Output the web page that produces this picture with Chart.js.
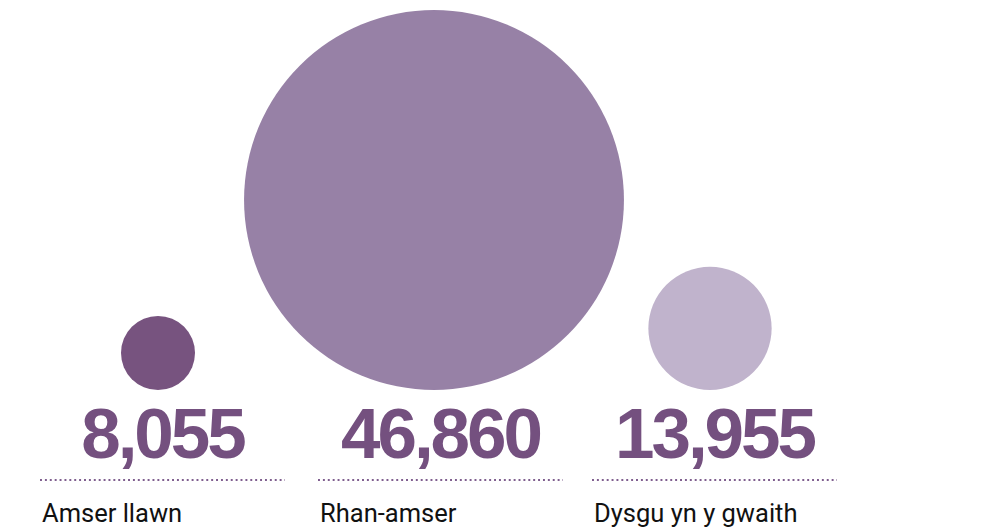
<!DOCTYPE html>
<html>
<head>
<meta charset="utf-8">
<script src="https://cdn.jsdelivr.net/npm/chart.js@4/dist/chart.umd.min.js"></script>
<style>
    html, body { margin: 0; padding: 0; background: #fff; }
    body { width: 990px; height: 528px; position: relative; overflow: hidden; font-family: Roboto, 'Noto Sans', sans-serif; }
    #wrap { position: absolute; left: 20px; top: 0; width: 828px; height: 392px; }
    .col { position: absolute; top: 398px; width: 245px; }
    .num {
        color: #74507f;
        font-family: 'Liberation Sans', Arial, sans-serif;
        font-size: 71px;
        font-weight: bold;
        letter-spacing: -3px;
        text-align: center;
        line-height: 72px;
        height: 72px;
    }
    .rule {
        margin-top: 9px;
        height: 2px;
        background: linear-gradient(to right, #7f5e8e 2px, transparent 2px) 0 0 / 4.9px 2px repeat-x;
    }
    .lbl {
        margin-top: 17px;
        padding-left: 2px;
        font-size: 25.5px;
        color: #111;
        line-height: 30px;
    }
</style>
</head>
<body>
<div id="wrap"><canvas id="bubbles"></canvas></div>
<div id="cols"></div>
<script>
const categories = ['Amser llawn', 'Rhan-amser', 'Dysgu yn y gwaith'];
const learners = [8055, 46860, 13955];
const bubbleColors = ['#77537f', '#9781a6', '#c0b3cc'];

const fmt = (n) => n.toLocaleString('en-GB');

// radius grows with the value (scale)
const radiusOf = (v) => 37 * Math.pow(v / learners[0], 0.929);

const colLefts = [40, 318, 592];

function buildColumns() {
    const cols = document.getElementById('cols');
    categories.forEach((c, i) => {
        const d = document.createElement('div');
        d.className = 'col';
        d.style.left = colLefts[i] + 'px';
        d.innerHTML = '<div class="num">' + fmt(learners[i]) + '</div><div class="rule"></div><div class="lbl">' + c + '</div>';
        cols.appendChild(d);
    });
}

function initChart() {
    const ctx = document.getElementById('bubbles').getContext('2d');
    new Chart(ctx, {
        type: 'bubble',
        data: {
            labels: categories,
            datasets: [{
                data: learners.map((v, i) => ({ x: categories[i], y: radiusOf(v) + 2, r: radiusOf(v) })),
                backgroundColor: bubbleColors,
                borderWidth: 0,
                hoverBorderWidth: 0,
                clip: false
            }]
        },
        options: {
            responsive: true,
            maintainAspectRatio: false,
            animation: false,
            layout: { autoPadding: false, padding: 0 },
            scales: {
                x: { type: 'category', offset: true, display: false },
                y: { type: 'linear', min: 0, max: 392, display: false }
            },
            plugins: { legend: { display: false }, tooltip: { enabled: false } }
        }
    });
}

document.addEventListener('DOMContentLoaded', () => {
    buildColumns();
    initChart();
});
</script>
</body>
</html>
